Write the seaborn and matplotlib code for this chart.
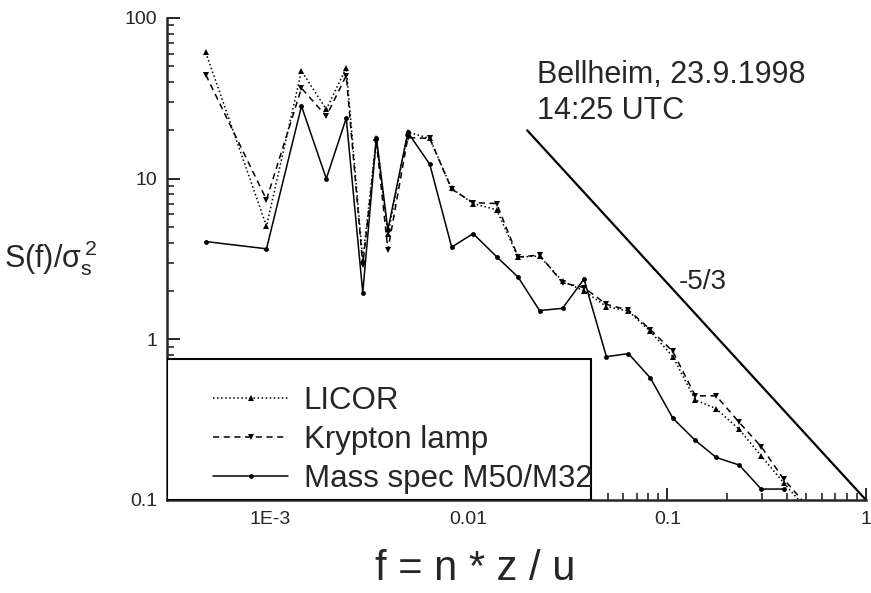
import numpy as np
import pandas as pd
import matplotlib
matplotlib.use("Agg")
import matplotlib.pyplot as plt
from matplotlib.patches import Rectangle
from matplotlib.ticker import LogLocator, NullFormatter
import seaborn as sns

# normalised frequency f = n*z/u (shared by all three instruments)
freq = [4.75e-4, 9.6e-4, 1.44e-3, 1.92e-3, 2.42e-3, 2.93e-3, 3.43e-3, 3.92e-3,
        4.94e-3, 6.37e-3, 8.21e-3, 0.01053, 0.01382, 0.01773, 0.02274, 0.02968,
        0.03805, 0.04937, 0.06368, 0.08215, 0.1066, 0.1382, 0.1762, 0.2300,
        0.2968, 0.3849, 0.4937]

licor = [61.0, 5.06, 46.8, 27.0, 49.0, 3.1, 18.0, 4.5,
         19.5, 17.8, 8.7, 7.0, 6.4, 3.25, 3.3, 2.3,
         2.0, 1.6, 1.5, 1.12, 0.78, 0.42, 0.37, 0.275,
         0.188, 0.128, 0.09]

krypton = [44.3, 7.4, 36.6, 24.5, 43.8, 2.9, 17.0, 3.6,
           18.0, 17.8, 8.6, 7.1, 7.0, 3.25, 3.35, 2.25,
           2.1, 1.65, 1.52, 1.15, 0.84, 0.445, 0.445, 0.304,
           0.215, 0.135, 0.095]

mass_spec = [4.06, 3.66, 28.3, 10.0, 23.8, 1.95, 18.0, 4.8,
             19.4, 12.3, 3.75, 4.55, 3.27, 2.44, 1.51, 1.56,
             2.37, 0.78, 0.815, 0.575, 0.323, 0.235, 0.184, 0.165,
             0.117, 0.117]

# -5/3 reference line end points
ref_x = [0.0197, 1.0]
ref_y = [20.0, 0.1]

x_ticks = [1e-3, 1e-2, 1e-1, 1]
x_tick_labels = ["1E-3", "0.01", "0.1", "1"]
y_ticks = [0.1, 1, 10, 100]
y_tick_labels = ["0.1", "1", "10", "100"]

sns.set_style("ticks")
plt.rcParams["font.family"] = ["Liberation Sans", "DejaVu Sans"]
plt.rcParams["mathtext.fontset"] = "custom"
plt.rcParams["mathtext.rm"] = "Liberation Sans"
plt.rcParams["mathtext.it"] = "Liberation Sans"

fig = plt.figure(figsize=(8.71, 5.93), dpi=100)
ax = fig.add_axes([167 / 871, 93 / 593, 699 / 871, 482 / 593])

df_licor = pd.DataFrame({"f": freq, "S": licor})
df_kr = pd.DataFrame({"f": freq, "S": krypton})
df_ms = pd.DataFrame({"f": freq[:len(mass_spec)], "S": mass_spec})

sns.lineplot(df_licor, x="f", y="S", ax=ax, color="black", linestyle=":",
             marker="^", markersize=4.5, markeredgewidth=0, linewidth=1.1,
             label="LICOR")
sns.lineplot(df_kr, x="f", y="S", ax=ax, color="black", linestyle=(0, (4, 3)),
             marker="v", markersize=4.5, markeredgewidth=0, linewidth=1.1,
             label="Krypton lamp")
sns.lineplot(df_ms, x="f", y="S", ax=ax, color="black", linestyle="-",
             marker="o", markersize=3.5, markeredgewidth=0, linewidth=1.1,
             label="Mass spec M50/M32")
ax.plot(ref_x, ref_y, color="black", linewidth=1.6)

ax.set_xscale("log")
ax.set_yscale("log")
ax.set_xlim(3.03e-4, 1)
ax.set_ylim(0.1, 100)

ax.set_xticks(x_ticks, labels=x_tick_labels)
ax.set_yticks(y_ticks, labels=y_tick_labels)
ax.xaxis.set_minor_locator(LogLocator(base=10, subs=np.arange(2, 10)))
ax.yaxis.set_minor_locator(LogLocator(base=10, subs=np.arange(2, 10)))
ax.xaxis.set_minor_formatter(NullFormatter())
ax.yaxis.set_minor_formatter(NullFormatter())
ax.tick_params(which="major", direction="in", length=9, width=1.4, labelsize=14)
ax.tick_params(which="minor", direction="in", length=5, width=1.2)
ax.tick_params(axis="x", pad=8)
ax.tick_params(axis="y", pad=7)

sns.despine(ax=ax)
for s in ["left", "bottom"]:
    ax.spines[s].set_linewidth(1.8)

ax.set_xlabel("")
ax.set_ylabel("")
fig.text(475 / 871, 1 - 569 / 593, "f = n * z / u", ha="center", va="center",
         fontsize=30)
fig.text(4 / 871, 1 - 258 / 593, r"S(f)/$\sigma_\mathrm{s}^{\,2}$", ha="left",
         va="center", fontsize=22)

ax.text(0.529, 0.913, "Bellheim, 23.9.1998\n14:25 UTC", transform=ax.transAxes,
        ha="left", va="top", fontsize=22, linespacing=1.25)
ax.text(0.1148, 2.29, "-5/3", ha="left", va="center", fontsize=20)

# legend box
ax.add_patch(Rectangle((0, 0), 424 / 699, 141 / 482, transform=ax.transAxes,
                       facecolor="white", edgecolor="black", linewidth=1.5,
                       zorder=3))
leg = ax.legend(loc="center left", bbox_to_anchor=(46 / 699, 60 / 482),
                frameon=False, fontsize=22.5, handlelength=2.4,
                handletextpad=0.5, labelspacing=0.3, borderpad=0,
                borderaxespad=0)
leg.set_zorder(4)

fig.savefig("out.png", dpi=100)
